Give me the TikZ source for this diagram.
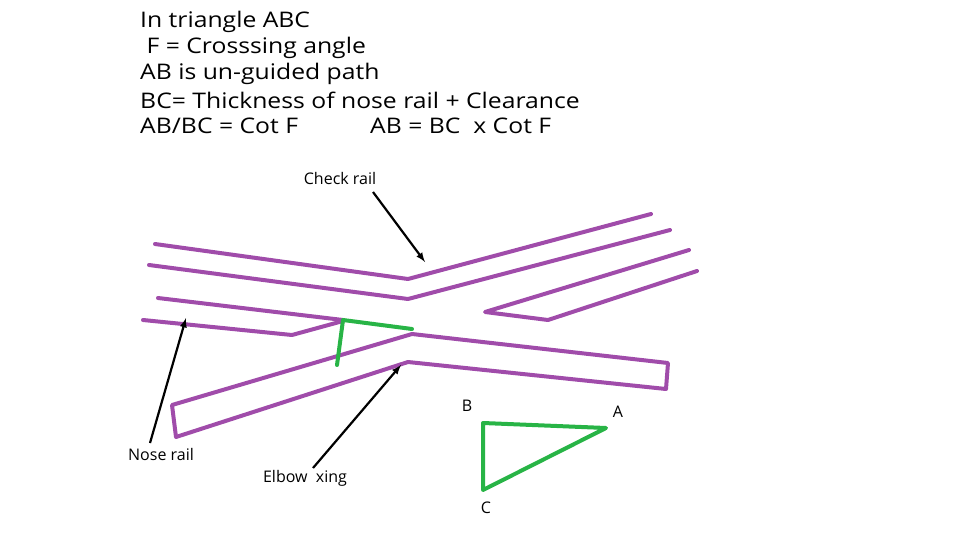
\documentclass[tikz,border=0pt]{standalone}
\usepackage{fontspec}
\setmainfont{Open Sans}
\begin{document}
\begin{tikzpicture}[x=1pt,y=-1pt,
 rail/.style={draw={rgb,255:red,160;green,76;blue,170},line width=4pt,line join=round,line cap=round},
 grn/.style={draw={rgb,255:red,40;green,180;blue,70},line width=4pt,line join=round,line cap=round},
 arr/.style={-latex,line width=2.2pt},
 lbl/.style={font=\fontsize{16}{18}\selectfont,inner sep=0pt},
 hd/.style={font=\fontsize{21.5}{26}\selectfont,inner sep=0pt,anchor=west,xscale=1.15}]
\useasboundingbox (0,0) rectangle (960,540);
\node[hd] (h1) at (140,22) {In triangle ABC};
\node[hd] (h2) at (140,48) {\ F = Crosssing angle};
\node[hd] (h3) at (140,74) {AB is un-guided path};
\node[hd] (h4) at (140,100) {BC= Thickness of nose rail + Clearance};
\node[hd] (h5) at (140,126) {AB/BC = Cot F};
\node[hd] (h6) at (370,126) {AB = BC\ \ x Cot F};
% rails
\draw[rail] (155,244) -- (408,279) -- (651,214);
\draw[rail] (149,265) -- (408,299) -- (670,230);
\draw[rail] (158,298) -- (343,320);
\draw[rail] (143,320) -- (292,335) -- (343,321);
\draw[rail] (668,363) -- (412,334) -- (172,405) -- (176,437) -- (408,362) -- (666,389) -- cycle;
\draw[rail] (689,250) -- (485,312) -- (548,320) -- (697,271);
\draw[grn] (412,329) -- (343,320) -- (337,365);
% triangle
\coordinate (B) at (483,423); \coordinate (A) at (606,428); \coordinate (C) at (483,490);
\draw[grn] (B) -- (A) -- (C) -- cycle;
\node[lbl] (lb) at (467,406) {B};
\node[lbl] (la) at (618,412) {A};
\node[lbl] (lc) at (486,508) {C};
% labels & arrows
\node[lbl] (cr) at (340,178) {Check rail};
\node[lbl] (nr) at (161,454) {Nose rail};
\node[lbl] (ex) at (305,478) {Elbow\ \ xing};
\coordinate (t1) at (425,262); \coordinate (t2) at (186,318); \coordinate (t3) at (401,365);
\draw[arr] (373,192) -- (t1);
\draw[arr] (150,443) -- (t2);
\draw[arr] (313,468) -- (t3);
\end{tikzpicture}
\end{document}
